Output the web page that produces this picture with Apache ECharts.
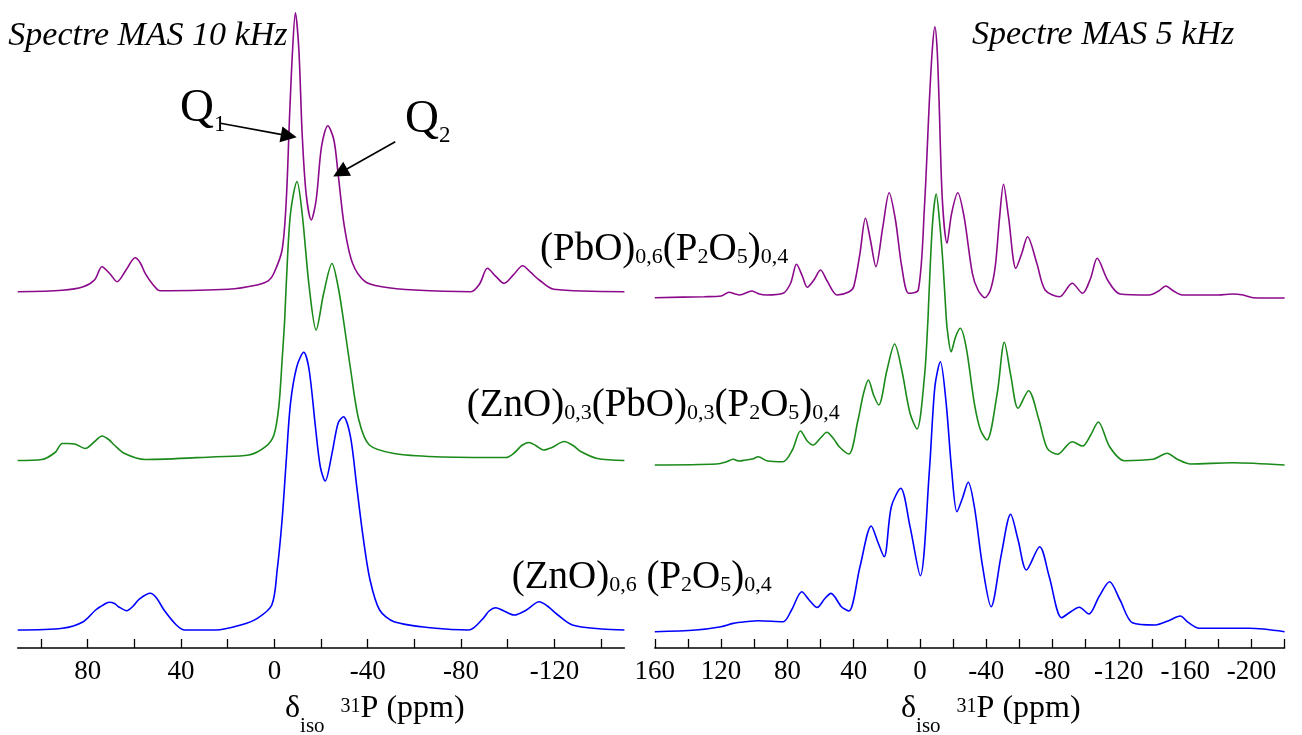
<!DOCTYPE html>
<html>
<head>
<meta charset="utf-8">
<script src="https://cdn.jsdelivr.net/npm/echarts@6/dist/echarts.min.js"></script>
<style>
html,body{margin:0;padding:0;background:#ffffff;}
#chart{width:1302px;height:735px;}
</style>
</head>
<body>
<div id="chart"></div>
<script>
// ---------- DATA (ppm, intensity a.u.) ----------
// Left panel : MAS 10 kHz
const left_PbO = [[110,0],[90.9,1.5],[81.9,5],[77,12],[73.9,25],[70.5,18],[67.4,10],[63.5,22],[59.7,34],[57.5,29],[55.3,18],[52,7],[49.1,1],[19.8,2.4],[7.4,6.7],[2.5,11],[0.2,18.4],[-3.3,41.7],[-5.1,91.7],[-6.5,175],[-7.8,241.7],[-9.0,279],[-10.5,241.7],[-11.9,158],[-13.6,98],[-15.8,71.7],[-17.9,91.7],[-20.2,145],[-22.9,166],[-25.5,151.7],[-27.3,118],[-30,65],[-33.5,28.4],[-38.9,10],[-46,5],[-60.2,1.7],[-84.2,0],[-88,8],[-91.3,23.4],[-95,15],[-98.4,8.4],[-102.5,17],[-106.4,26],[-110,19],[-113.5,11.7],[-119.7,2.4],[-150,0]];
const left_ZnPb = [[110,0],[99.7,1],[94,8],[90.9,17],[88.5,17],[85.5,16.5],[81.1,12],[77,19],[73.9,24.5],[71,21],[68.6,15.5],[64.2,7],[55.3,1],[25.1,3.8],[10.9,5.5],[3.8,13.8],[0.2,25.5],[-1.9,53.8],[-3.3,100],[-4.4,140],[-5.1,177],[-6.9,247],[-9.7,279],[-11.9,247],[-14.9,174],[-17.9,130.5],[-21.1,167],[-24.7,197],[-27.3,174],[-29.6,140.5],[-32.7,90.5],[-36.2,40.5],[-40.7,15.5],[-51.3,7],[-69.1,3.8],[-99.3,3],[-103,8],[-106,15],[-109.1,18],[-112,15],[-115.3,10.5],[-119,13],[-124.2,19],[-128,15],[-131.3,9],[-138.4,2],[-150,0]];
const left_ZnO = [[110,0],[90.9,1.7],[81.9,8.3],[76.6,20],[73,25.5],[70.9,27.7],[68.5,26.5],[66.8,23.3],[63.3,19.3],[60.5,24],[58,30.7],[53.2,36.7],[50.5,32],[47.3,20],[42,5],[38.4,0],[25.1,0],[14.4,5],[7.3,11.7],[1.1,25],[-1.2,60],[-3.3,110],[-5.1,170],[-6.9,226.7],[-9.6,263.3],[-12.6,277.7],[-14.9,260],[-17.6,203],[-19.7,163],[-21.8,149],[-24.7,176.7],[-27.3,206.7],[-29.6,213.3],[-32.6,193.3],[-35.3,143.3],[-38,93.3],[-41,50],[-45.1,20],[-51.3,8.3],[-69.1,1.7],[-83.3,0],[-89.5,11.7],[-92,19],[-94.9,22.3],[-98,19.5],[-102.8,15],[-108,20],[-113.5,28.3],[-117,24],[-121.5,15],[-127.7,5],[-140.2,1],[-150,0]];
// Right panel : MAS 5 kHz
const right_PbO = [[160,0.3],[130.2,1.3],[120,2],[115.2,5.7],[111.5,4],[108.9,3],[101.4,7],[97,4],[92.6,3],[82.6,4.7],[78,15],[74.5,33.7],[71,22],[68,10.7],[64,18],[60,28],[56,17],[50,3],[43,6],[40,11.3],[36.2,44.7],[32.9,79.7],[29.9,58],[26.6,31.3],[22.4,71.3],[18.6,105.3],[14.8,78],[11,31.3],[6.8,4.7],[1.0,8],[-2.7,91.3],[-5.7,198],[-7.5,250],[-9.0,271.3],[-10.3,250],[-11.5,198],[-13.5,98],[-16.3,54.7],[-19.1,84.7],[-22.8,105.3],[-26.6,81.3],[-31.6,24.7],[-35,8],[-39.1,0.3],[-42.5,8],[-45.4,31.3],[-48,80],[-50.4,113.7],[-53.4,81.3],[-57.9,29.7],[-61.5,45],[-64.9,61.3],[-70.5,34.7],[-75.5,8],[-84.3,1.3],[-91.8,14.7],[-98.1,4.7],[-103,20],[-106.9,39.7],[-113.2,18],[-120.7,4],[-138.3,3],[-144,7],[-148.3,12],[-153,7],[-158.3,3],[-180,3],[-188.4,4],[-195,3],[-201,0.3],[-220,0]];
const right_ZnPb = [[160,0],[122.8,1],[117,3],[112.7,5.7],[109,4],[105.2,5],[101,6],[97.6,8.3],[92,4],[82.6,3.3],[77,15],[72.1,34],[68,24],[64.5,20],[60,27],[56.2,32.7],[52,26],[48.7,18.3],[42.9,11],[37.4,45],[34,72],[31.1,85],[28,70],[24.9,60],[19.9,95],[15.3,121],[11,95],[6,51.7],[1.8,36],[-2.7,88.3],[-4.8,145],[-5.3,165],[-7.5,240],[-9.8,271],[-12,240],[-14,198.3],[-15.8,148.3],[-16.5,135],[-18.8,113.3],[-21.5,128.3],[-24.3,136.7],[-27.8,118.3],[-32.8,61.7],[-36.5,35],[-40.4,25],[-46.6,71.7],[-50.9,122.7],[-54.9,88.3],[-59.2,56.7],[-65.5,74.3],[-71.8,45],[-76.8,16.7],[-83,10.7],[-91.8,23.3],[-98.1,19],[-103,30],[-107.6,43],[-114.4,18.3],[-123.2,4.3],[-140.7,5.7],[-145,9],[-149,11.7],[-155,6],[-163.3,1],[-188.4,2.3],[-220,0]];
const right_ZnO = [[160,0],[135.3,1.7],[120,5],[112.7,8.3],[105,10],[97.6,11],[82.6,10],[77.5,21.7],[71.3,40],[67,32],[62,24.3],[57.5,33],[53.7,38.3],[47.4,25],[42.9,20.7],[36.2,65],[29.4,105.7],[25.5,90],[21.6,75],[17.3,125],[11.6,143.4],[6,105],[-0.2,56],[-5.7,161.7],[-9,245],[-12.3,270],[-15.8,228.4],[-19.1,161.7],[-22.3,120],[-25.5,133],[-29.1,149.4],[-32.8,125],[-37.8,65],[-42.9,25],[-49.2,78.4],[-54.7,117.4],[-59.2,91.7],[-64.2,61.7],[-72.2,85],[-78,55],[-85.5,14],[-91,20],[-96.1,24.4],[-101.9,17.7],[-108,35],[-114.4,50],[-120.7,31.7],[-128.2,9],[-142,6.7],[-150,11],[-157,15.7],[-162,9],[-168.4,3.4],[-198.5,3.4],[-220,0]];

// axes
const leftRange = [-150, 110];
const rightRange = [-220, 160];
const leftTicks = [100,80,60,40,20,0,-20,-40,-60,-80,-100,-120,-140];
const leftTickLabels = [80,40,0,-40,-80,-120];
const rightTicks = [160,140,120,100,80,60,40,20,0,-20,-40,-60,-80,-100,-120,-140,-160,-180,-200,-220];
const rightTickLabels = [160,120,80,40,0,-40,-80,-120,-160,-200];

// Q1 / Q2 arrows (tail -> head) in data coords of the top-left spectrum
const arrowQ1 = [[23.1,168.4],[-6.2,155.8]];
const arrowQ2 = [[-51.8,150],[-28.2,119]];

// ---------- STYLE / LAYOUT ----------
const FONT = '"Liberation Serif","Times New Roman",serif';
const PURPLE = '#8b0a8b', GREEN = '#1a8a1a', BLUE = '#0000ff';
const YMAX = 290;
const AXIS_Y = 648;
const panels = [
  {left:17.7, right:624.4, range:leftRange, ticks:leftTicks, labels:leftTickLabels,
   spectra:[{d:left_PbO,c:PURPLE,base:291.7},{d:left_ZnPb,c:GREEN,base:460.5},{d:left_ZnO,c:BLUE,base:630}]},
  {left:654.8, right:1284.6, range:rightRange, ticks:rightTicks, labels:rightTickLabels,
   spectra:[{d:right_PbO,c:PURPLE,base:298},{d:right_ZnPb,c:GREEN,base:465},{d:right_ZnO,c:BLUE,base:631.7}]}
];

const grid = [], xAxis = [], yAxis = [], series = [];
panels.forEach((p, pi) => {
  p.spectra.forEach((s, si) => {
    const gi = grid.length;
    grid.push({left:p.left, width:p.right - p.left, top:s.base - YMAX, height:YMAX, containLabel:false});
    xAxis.push({type:'value', gridIndex:gi, min:p.range[0], max:p.range[1], inverse:true, show:false});
    yAxis.push({type:'value', gridIndex:gi, min:0, max:YMAX, show:false});
    const ser = {
      type:'line', xAxisIndex:gi, yAxisIndex:gi, data:s.d, showSymbol:false, symbol:'none',
      smooth:0.3, clip:false, silent:true, animation:false,
      lineStyle:{color:s.c, width:1.6}
    };
    if (pi === 0 && si === 0) {
      ser.markLine = {
        silent:true, animation:false, symbol:['none','triangle'], symbolSize:16,
        lineStyle:{color:'#000', width:1.6, type:'solid'}, label:{show:false},
        itemStyle:{color:'#000'},
        data:[
          [{coord:arrowQ1[0]},{coord:arrowQ1[1]}],
          [{coord:arrowQ2[0]},{coord:arrowQ2[1]}]
        ]
      };
    }
    series.push(ser);
  });
  // visible axis grid
  const gi = grid.length;
  grid.push({left:p.left, width:p.right - p.left, top:AXIS_Y - 200, height:200});
  xAxis.push({
    type:'value', gridIndex:gi, min:p.range[0], max:p.range[1], inverse:true,
    axisLine:{show:true, onZero:false, lineStyle:{color:'#000', width:1.5}},
    axisTick:{show:true, inside:true, length:9, customValues:p.ticks, lineStyle:{color:'#000', width:1.3}},
    axisLabel:{show:true, customValues:p.labels, fontFamily:FONT, fontSize:27, color:'#000', margin:10,
               formatter:v => String(v)},
    splitLine:{show:false}
  });
  yAxis.push({type:'value', gridIndex:gi, min:0, max:1, show:false});
});

// ---------- TEXT ----------
const M = {fontFamily:FONT, fontSize:39, lineHeight:39, verticalAlign:'top', color:'#000'};
const S = {fontFamily:FONT, fontSize:22, lineHeight:22, verticalAlign:'top', color:'#000', padding:[16,0,0,0]};
function rich(x, y, text, richDef) {
  return {type:'text', x:x, y:y, silent:true,
          style:{text:text, rich:richDef, align:'left', verticalAlign:'top', fill:'#000'}};
}
const labelRich = {m:M, s:S};
const qRich = {
  m:{fontFamily:FONT, fontSize:47, lineHeight:47, verticalAlign:'top', color:'#000'},
  a:{fontFamily:FONT, fontSize:23, lineHeight:23, verticalAlign:'top', color:'#000', padding:[29,0,0,0]}
};
const qRich2 = {
  m:qRich.m,
  a:{fontFamily:FONT, fontSize:23, lineHeight:23, verticalAlign:'top', color:'#000', padding:[28,0,0,0]}
};
const titleRich = {
  m:{fontFamily:FONT, fontSize:32, lineHeight:32, verticalAlign:'top', color:'#000'},
  s:{fontFamily:FONT, fontSize:21, lineHeight:21, verticalAlign:'top', color:'#000', padding:[24,0,0,0]},
  p:{fontFamily:FONT, fontSize:20, lineHeight:20, verticalAlign:'top', color:'#000', padding:[5,0,0,0]}
};
const italicStyle = t => ({text:t, fontFamily:FONT, fontStyle:'italic', fontSize:34, lineHeight:34, fill:'#000', align:'left', verticalAlign:'top'});

const graphic = [
  {type:'text', x:8.3, y:18.8, silent:true, style:italicStyle('Spectre MAS 10 kHz')},
  {type:'text', x:972, y:18.2, silent:true, style:italicStyle('Spectre MAS 5 kHz')},
  rich(180, 84.8, '{m|Q}{a|1}', qRich),
  rich(405, 96.5, '{m|Q}{a|2}', qRich2),
  rich(540, 230.7, '{m|(PbO)}{s|0,6}{m|(P}{s|2}{m|O}{s|5}{m|)}{s|0,4}', labelRich),
  rich(466.7, 386.3, '{m|(ZnO)}{s|0,3}{m|(PbO)}{s|0,3}{m|(P}{s|2}{m|O}{s|5}{m|)}{s|0,4}', labelRich),
  rich(511.7, 558, '{m|(ZnO)}{s|0,6}{m| (P}{s|2}{m|O}{s|5}{m|)}{s|0,4}', labelRich),
  rich(285, 692.1, '{m|δ}{s|iso}{m|  }{p|31}{m|P (ppm)}', titleRich),
  rich(901, 692.1, '{m|δ}{s|iso}{m|  }{p|31}{m|P (ppm)}', titleRich)
];

const chart = echarts.init(document.getElementById('chart'), null, {renderer:'canvas'});
chart.setOption({
  backgroundColor:'#ffffff',
  animation:false,
  grid, xAxis, yAxis, series, graphic
});
</script>
</body>
</html>
